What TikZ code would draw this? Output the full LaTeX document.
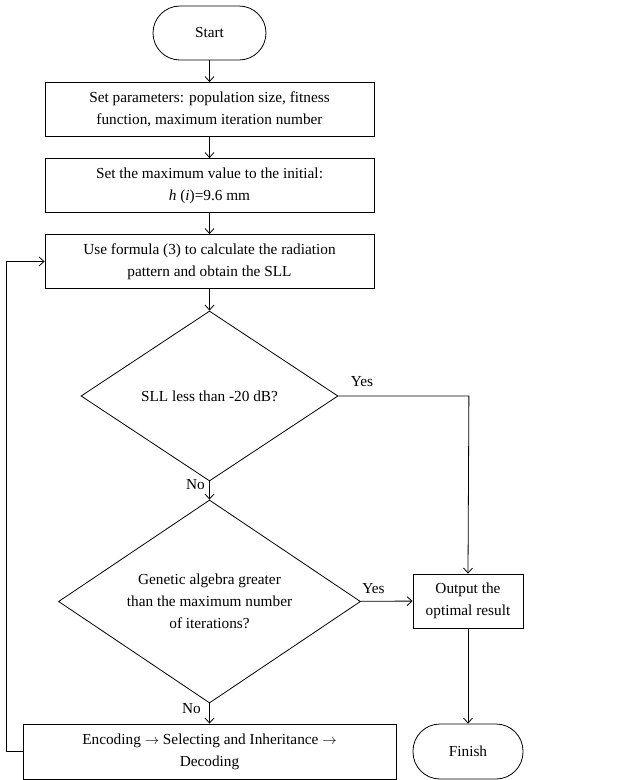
\documentclass[tikz,border=0pt]{standalone}
\usepackage{fontspec}
\setmainfont{Liberation Serif}
\usetikzlibrary{shapes.geometric,arrows.meta}

\begin{document}
\begin{tikzpicture}[x=1pt,y=-1pt,
	line width=0.8pt,
	>={Straight Barb[length=5pt,width=9pt]},
	every node/.style={font=\fontsize{15.3}{22}\selectfont},
	terminal/.style={draw,rectangle,rounded corners=27pt,minimum width=113pt,minimum height=54pt},
	stepbox/.style={draw,rectangle,align=center,minimum width=329pt,minimum height=54pt,inner sep=0pt},
	decision/.style={draw,diamond,align=center,inner sep=0pt,aspect=1.5}]

	\useasboundingbox (0,0) rectangle (633,780);

	\node[terminal] (start) at (209.5,33) {Start};

	\node[stepbox] (param) at (209.5,109.5) {Set parameters: population size, fitness\\function, maximum iteration number};

	\node[stepbox] (init) at (209.5,185.5) {Set the maximum value to the initial:\\\textit{h} (\textit{i})=9.6 mm};

	\node[stepbox] (calc) at (209.5,261.5) {Use formula (3) to calculate the radiation\\pattern and obtain the SLL};

	\node[decision,minimum width=257pt,minimum height=170pt] (sll) at (209.5,396) {SLL less than -20 dB?};

	\node[decision,minimum width=302pt,minimum height=203pt] (iter) at (209.5,601.5) {Genetic algebra greater\\than the maximum number\\of iterations?};

	\node[stepbox,minimum width=110pt] (out) at (468,601) {Output the\\optimal result};

	\node[terminal,minimum width=110pt,minimum height=55pt] (finish) at (468,751.5) {Finish};

	\node[stepbox,minimum width=373pt,minimum height=55pt] (enc) at (209.5,751.5) {Encoding $\rightarrow$ Selecting and Inheritance $\rightarrow$\\Decoding};

	\draw[->] (start) -- (param);
	\draw[->] (param) -- (init);
	\draw[->] (init) -- (calc);
	\draw[->] (calc) -- (sll);

	\draw[->] (sll) -- node[left=1pt,pos=0.15] {No} (iter);

	\draw[->] (sll.east) -- node[above=6pt,pos=0.18] {Yes} ++(130.5,0) -- (out.north);

	\draw[->] (iter) -- node[above=4pt,pos=0.25] {Yes} (out);

	\draw[->] (iter) -- node[left=5pt,pos=0.25] {No} (enc);

	\draw[->] (out) -- (finish);

	\draw[->] (enc.west) -- ++(-16,0) |- (calc.west);

\end{tikzpicture}
\end{document}
